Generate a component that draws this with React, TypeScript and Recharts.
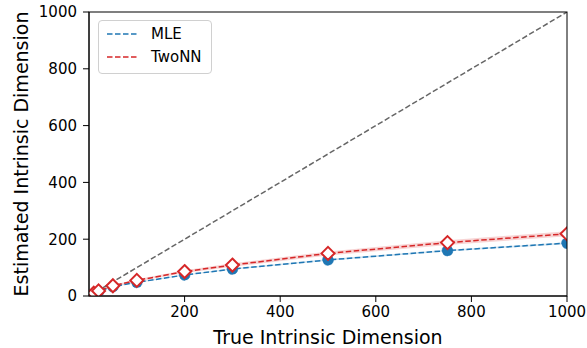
import React from 'react';
import {
  ComposedChart,
  Line,
  Area,
  XAxis,
  YAxis,
  Label,
} from 'recharts';

// true intrinsic dimension (x) and the two estimators (mean +/- spread)
const trueDims = [10, 20, 50, 100, 200, 300, 500, 750, 1000];
const mleMean = [9, 16, 33, 48, 74, 95, 127, 160, 186];
const mleSpread = [0.5, 1, 1.5, 2, 2, 2.5, 3, 3, 3.5];
const twoNNMean = [10, 18, 36, 55, 86, 109, 150, 188, 219];
const twoNNSpread = [1, 2, 3, 4, 5, 6, 7, 8, 9];
const xTicks = [200, 400, 600, 800, 1000];
const yTicks = [0, 200, 400, 600, 800, 1000];

const data = trueDims.map((d, i) => ({
  dim: d,
  diag: d,
  mle: mleMean[i],
  mleBand: [mleMean[i] - mleSpread[i], mleMean[i] + mleSpread[i]],
  twoNN: twoNNMean[i],
  twoNNBand: [twoNNMean[i] - twoNNSpread[i], twoNNMean[i] + twoNNSpread[i]],
}));

// the y = x reference line, drawn from the corner
const diagData = [
  { dim: 0, diag: 0 },
  { dim: 1000, diag: 1000 },
];

const BLUE = '#1f77b4';
const RED = '#d62728';
const FONT = '"DejaVu Sans", sans-serif';

const W = 587;
const H = 348;
const margin = { top: 12, right: 20, bottom: 0, left: 29 };
const Y_AXIS_W = 60;
const X_AXIS_H = 52;

const Diamond = (props: any) => {
  const { cx, cy } = props;
  if (cx == null || cy == null) return null;
  const r = 6.5;
  return (
    <path
      d={`M${cx},${cy - r} L${cx + r},${cy} L${cx},${cy + r} L${cx - r},${cy} Z`}
      fill="#fff"
      stroke={RED}
      strokeWidth={2}
    />
  );
};

const Legend = () => (
  <div
    style={{
      position: 'absolute',
      left: 98,
      top: 20,
      width: 112,
      height: 52,
      border: '1px solid #d0d0d0',
      borderRadius: 4,
      background: 'rgba(255,255,255,0.8)',
      fontFamily: FONT,
      fontSize: 15,
      color: '#000',
    }}
  >
    {[
      { name: 'MLE', color: BLUE },
      { name: 'TwoNN', color: RED },
    ].map((e, i) => (
      <div key={e.name} style={{ position: 'absolute', left: 8, top: 4 + i * 23, display: 'flex', alignItems: 'center' }}>
        <svg width={30} height={18}>
          <line x1={0} y1={9} x2={30} y2={9} stroke={e.color} strokeWidth={1.5} strokeDasharray="5.5 2.5" />
        </svg>
        <span style={{ marginLeft: 14 }}>{e.name}</span>
      </div>
    ))}
  </div>
);

const App: React.FC = () => {
  const plotX = margin.left + Y_AXIS_W;
  const plotY = margin.top;
  const plotW = W - plotX - margin.right;
  const plotH = H - margin.top - margin.bottom - X_AXIS_H;
  return (
    <div style={{ position: 'absolute', left: 0, top: 0, width: W, height: H, background: '#fff' }}>
      <ComposedChart width={W} height={H} data={data} margin={margin}>
        <XAxis
          dataKey="dim"
          type="number"
          domain={[0, 1000]}
          ticks={xTicks}
          stroke="#000"
          tick={{ fill: '#000', fontSize: 15, fontFamily: FONT }}
          tickLine={{ stroke: '#000' }}
          tickMargin={4}
          height={X_AXIS_H}
          allowDataOverflow
        >
          <Label value="True Intrinsic Dimension" position="insideBottom" offset={4} style={{ fill: '#000', fontSize: 19, fontFamily: FONT }} />
        </XAxis>
        <YAxis
          type="number"
          domain={[0, 1000]}
          ticks={yTicks}
          stroke="#000"
          tick={{ fill: '#000', fontSize: 15, fontFamily: FONT }}
          tickLine={{ stroke: '#000' }}
          tickMargin={6}
          width={Y_AXIS_W}
          allowDataOverflow
        >
          <Label
            value="Estimated Intrinsic Dimension"
            angle={-90}
            position="insideLeft"
            offset={-8}
            style={{ fill: '#000', fontSize: 19, fontFamily: FONT, textAnchor: 'middle' }}
          />
        </YAxis>

        <Line
          data={diagData}
          dataKey="diag"
          stroke="#666"
          strokeWidth={1.5}
          strokeDasharray="5.5 2.5"
          dot={false}
          isAnimationActive={false}
        />
        <Area dataKey="mleBand" stroke="none" fill={BLUE} fillOpacity={0.2} isAnimationActive={false} />
        <Area dataKey="twoNNBand" stroke="none" fill={RED} fillOpacity={0.2} isAnimationActive={false} />
        <Line
          dataKey="mle"
          stroke={BLUE}
          strokeWidth={1.5}
          strokeDasharray="5.5 2.5"
          dot={{ r: 5.5, fill: BLUE, stroke: BLUE, strokeWidth: 0.5 }}
          isAnimationActive={false}
        />
        <Line
          dataKey="twoNN"
          stroke={RED}
          strokeWidth={1.5}
          strokeDasharray="5.5 2.5"
          dot={<Diamond />}
          isAnimationActive={false}
        />
      </ComposedChart>
      {/* frame around the plot area (top and right spines) */}
      <svg width={W} height={H} style={{ position: 'absolute', left: 0, top: 0, pointerEvents: 'none' }}>
        <rect x={plotX} y={plotY} width={plotW} height={plotH} fill="none" stroke="#000" strokeWidth={1} />
      </svg>
      <Legend />
    </div>
  );
};

export default App;
